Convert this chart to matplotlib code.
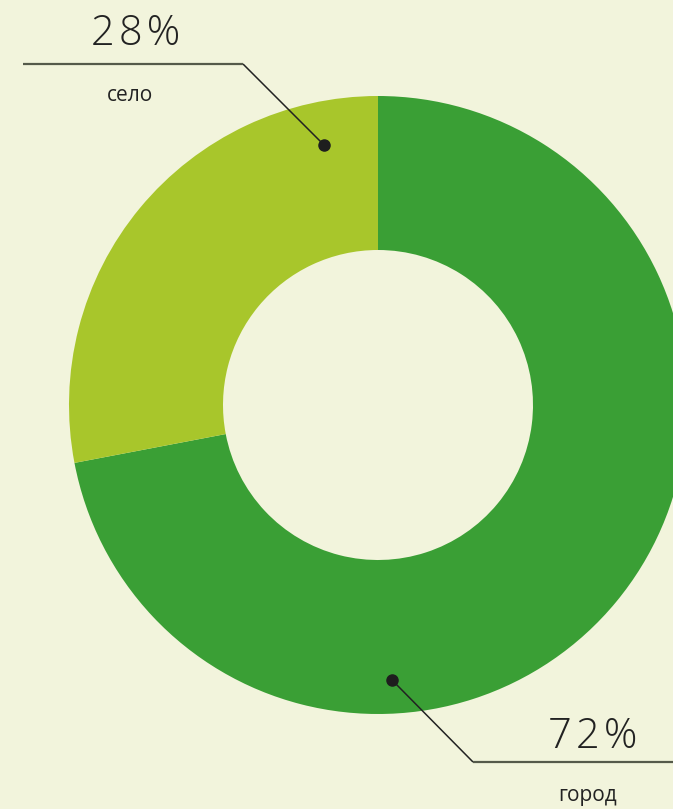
import matplotlib
matplotlib.use("Agg")
import matplotlib.pyplot as plt

labels = ["город", "село"]
shares = [72, 28]
colors = ["#3a9f35", "#a8c62b"]
pct_labels = ["72%", "28%"]

W, H = 673, 809
bg = "#f2f4dc"
cx, cy = 378, H - 405
R = 309

fig = plt.figure(figsize=(W / 100, H / 100), dpi=100, facecolor=bg)
ax = fig.add_axes([0, 0, 1, 1])
ax.set_facecolor(bg)

ax.pie(shares, colors=colors, startangle=90, counterclock=False,
       center=(cx, cy), radius=R, frame=True,
       wedgeprops=dict(width=154, linewidth=0))
ax.set_xlim(0, W)
ax.set_ylim(0, H)
ax.set_aspect("equal")
ax.axis("off")

# leader lines (pixel coords from top)
leaders = {
    "город": [(392, 680), (473, 762), (673, 762)],
    "село": [(324, 145), (243, 64), (23, 64)],
}
text_pos = {
    "город": ((593, 737), (588, 795)),
    "село": ((136, 34), (130, 95)),
}
for lab, pct in zip(labels, pct_labels):
    pts = leaders[lab]
    xs = [p[0] for p in pts]
    ys = [H - p[1] for p in pts]
    ax.plot(xs[:2], ys[:2], color="#222222", lw=1.1, solid_capstyle="butt")
    ax.plot(xs[1:], ys[1:], color="#555a4a", lw=1.6, solid_capstyle="butt")
    ax.plot(xs[0], ys[0], "o", color="#1e1e1e", ms=8)
    (px, py), (lx, ly) = text_pos[lab]
    spaced = "\u200a".join(pct)
    ax.text(px, H - py, spaced, fontsize=30, family="Open Sans", weight="light",
            color="#222222", ha="center", va="center")
    ax.text(lx, H - ly, lab, fontsize=15, family="Open Sans", color="#222222",
            ha="center", va="center")

fig.savefig("out.png", dpi=100, facecolor=bg)
